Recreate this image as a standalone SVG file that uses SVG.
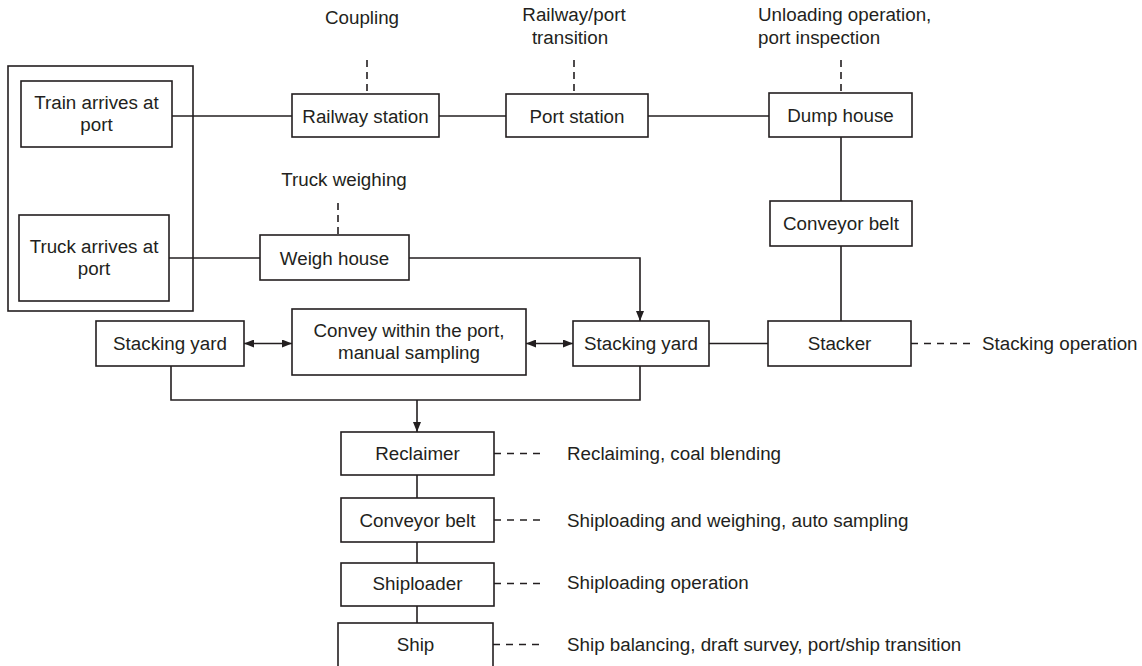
<svg xmlns="http://www.w3.org/2000/svg" width="1142" height="666" viewBox="0 0 1142 666">
<style>
  .box { fill: #ffffff; stroke: #231f20; stroke-width: 1.6; }
  .ln { fill: none; stroke: #231f20; stroke-width: 1.6; }
  .dash { fill: none; stroke: #231f20; stroke-width: 1.6; stroke-dasharray: 7 6; }
  .vdash { fill: none; stroke: #231f20; stroke-width: 1.6; stroke-dasharray: 7 5; }
  text { font-family: "Liberation Sans", Arial, Helvetica, sans-serif; font-size: 18.8px; fill: #231f20; }
  .c { text-anchor: middle; }
</style>
<defs>
  <marker id="ah" viewBox="0 0 10 8" refX="10" refY="4" markerWidth="10" markerHeight="8" markerUnits="userSpaceOnUse" orient="auto-start-reverse">
    <path d="M0,0 L10,4 L0,8 z" fill="#231f20"/>
  </marker>
</defs>
<rect width="1142" height="666" fill="#ffffff"/>

<g id="connectors">
  <line class="ln" x1="172" y1="116" x2="292" y2="116"/>
  <line class="ln" x1="439" y1="116" x2="506" y2="116"/>
  <line class="ln" x1="648" y1="116" x2="769" y2="116"/>
  <line class="ln" x1="169" y1="258" x2="260" y2="258"/>
  <line class="ln" x1="841" y1="137" x2="841" y2="201"/>
  <line class="ln" x1="841" y1="246" x2="841" y2="321"/>
  <polyline class="ln" points="409,258 640,258 640,321" marker-end="url(#ah)"/>
  <line class="ln" x1="709" y1="343.5" x2="768" y2="343.5"/>
  <line class="ln" x1="244" y1="343.5" x2="292" y2="343.5" marker-start="url(#ah)" marker-end="url(#ah)"/>
  <line class="ln" x1="526" y1="343.5" x2="573" y2="343.5" marker-start="url(#ah)" marker-end="url(#ah)"/>
  <polyline class="ln" points="171,366 171,400 640,400 640,366"/>
  <line class="ln" x1="417" y1="400" x2="417" y2="432" marker-end="url(#ah)"/>
  <line class="ln" x1="417" y1="475" x2="417" y2="498"/>
  <line class="ln" x1="417" y1="542" x2="417" y2="563"/>
  <line class="ln" x1="417" y1="606" x2="417" y2="623"/>
  <line class="vdash" x1="367" y1="60" x2="367" y2="94"/>
  <line class="vdash" x1="574" y1="60" x2="574" y2="94"/>
  <line class="vdash" x1="841" y1="60" x2="841" y2="93"/>
  <line class="vdash" x1="338" y1="203" x2="338" y2="235"/>
  <line class="dash" x1="911" y1="343.5" x2="970" y2="343.5"/>
  <line class="dash" x1="494" y1="453.5" x2="543" y2="453.5"/>
  <line class="dash" x1="494" y1="520" x2="543" y2="520"/>
  <line class="dash" x1="494" y1="583.5" x2="543" y2="583.5"/>
  <line class="dash" x1="493" y1="644.5" x2="543" y2="644.5"/>
</g>

<g id="arrival-group">
  <rect x="8" y="66" width="185" height="245" fill="none" stroke="#231f20" stroke-width="1.6"/>
</g>
<g id="train">
  <rect class="box" x="21" y="81" width="151" height="66"/>
  <text class="c" x="96.5" y="109">Train arrives at</text>
  <text class="c" x="96.5" y="131">port</text>
</g>
<g id="truck">
  <rect class="box" x="19" y="215" width="150" height="86"/>
  <text class="c" x="94" y="253">Truck arrives at</text>
  <text class="c" x="94" y="275">port</text>
</g>
<g id="railway-station">
  <rect class="box" x="292" y="94" width="147" height="43"/>
  <text class="c" x="365.5" y="122.5">Railway station</text>
</g>
<g id="port-station">
  <rect class="box" x="506" y="94" width="142" height="43"/>
  <text class="c" x="577" y="122.5">Port station</text>
</g>
<g id="dump-house">
  <rect class="box" x="769" y="93" width="143" height="44"/>
  <text class="c" x="840.5" y="122">Dump house</text>
</g>
<g id="weigh-house">
  <rect class="box" x="260" y="235" width="149" height="45"/>
  <text class="c" x="334.5" y="264.5">Weigh house</text>
</g>
<g id="conveyor-belt-upper">
  <rect class="box" x="770" y="201" width="142" height="45"/>
  <text class="c" x="841" y="230">Conveyor belt</text>
</g>
<g id="stacker">
  <rect class="box" x="768" y="321" width="143" height="45"/>
  <text class="c" x="839.5" y="350">Stacker</text>
</g>
<g id="stacking-yard-left">
  <rect class="box" x="96" y="321" width="148" height="45"/>
  <text class="c" x="170" y="350">Stacking yard</text>
</g>
<g id="convey">
  <rect class="box" x="292" y="309" width="234" height="66"/>
  <text class="c" x="409" y="337">Convey within the port,</text>
  <text class="c" x="409" y="359">manual sampling</text>
</g>
<g id="stacking-yard-right">
  <rect class="box" x="573" y="321" width="136" height="45"/>
  <text class="c" x="641" y="350">Stacking yard</text>
</g>
<g id="reclaimer">
  <rect class="box" x="341" y="432" width="153" height="43"/>
  <text class="c" x="417.5" y="460">Reclaimer</text>
</g>
<g id="conveyor-belt-lower">
  <rect class="box" x="341" y="498" width="153" height="44"/>
  <text class="c" x="417.5" y="526.5">Conveyor belt</text>
</g>
<g id="shiploader">
  <rect class="box" x="341" y="563" width="153" height="43"/>
  <text class="c" x="417.5" y="590">Shiploader</text>
</g>
<g id="ship">
  <rect class="box" x="338" y="623" width="155" height="60"/>
  <text class="c" x="415.5" y="651">Ship</text>
</g>

<g id="labels">
  <text class="c" x="362" y="24">Coupling</text>
  <text class="c" x="574" y="21">Railway/port</text>
  <text class="c" x="570" y="44">transition</text>
  <text x="758" y="21">Unloading operation,</text>
  <text x="758" y="44">port inspection</text>
  <text class="c" x="344" y="186">Truck weighing</text>
  <text x="982" y="350">Stacking operation</text>
  <text x="567" y="460">Reclaiming, coal blending</text>
  <text x="567" y="526.5">Shiploading and weighing, auto sampling</text>
  <text x="567" y="589">Shiploading operation</text>
  <text x="567" y="650.5">Ship balancing, draft survey, port/ship transition</text>
</g>
</svg>
